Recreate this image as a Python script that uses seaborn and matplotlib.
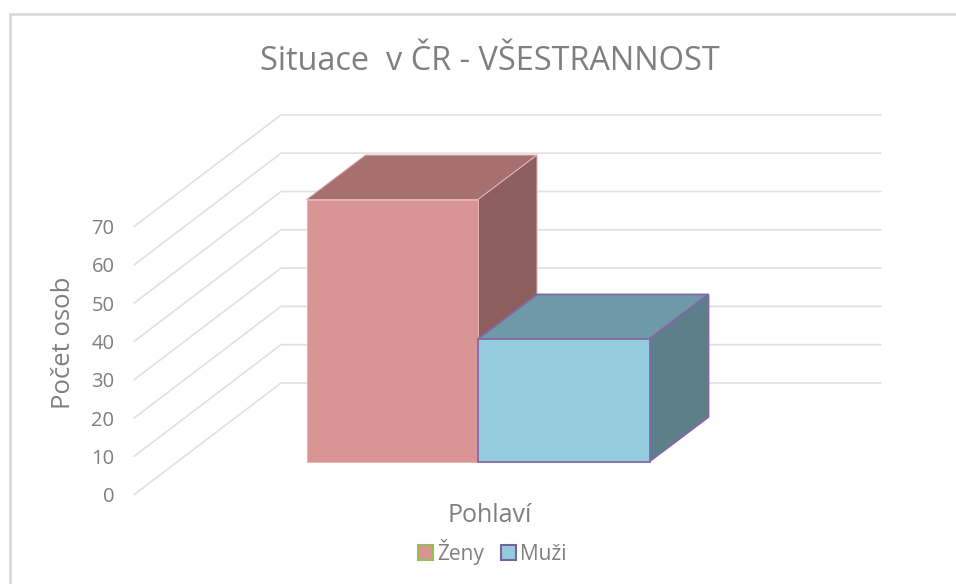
import matplotlib
matplotlib.use("Agg")
import matplotlib.pyplot as plt
import pandas as pd
import seaborn as sns
from matplotlib.lines import Line2D
from matplotlib.patches import Patch

# data
pohlavi = ["Ženy", "Muži"]
pocet = [68.4, 32]
osa_y = [0, 10, 20, 30, 40, 50, 60, 70]

# colours of the bar faces
predni = ["#D99594", "#93CDDD"]
vrch = ["#A5706F", "#7099A8"]
bok = ["#8C5F5E", "#5C7F89"]
okraj = ["#E6B4B3", "#8468A6"]
legenda_okraj = ["#9BBB59", "#7B5FA0"]
seda = "#7F7F7F"
mrizka = "#E0E0E0"

W, H = 956, 584
PX_X = 171.5   # px per category
PX_Y = 3.83    # px per value unit
X0, Y0 = 392.25, 461.5  # px position of category 0 / bar baseline


def sx(px):
    return (px - X0) / PX_X


def sy(py):
    return (Y0 - py) / PX_Y


sns.set_theme(style="white")
plt.rcParams["font.family"] = ["Open Sans", "DejaVu Sans"]

fig = plt.figure(figsize=(W / 100, H / 100), dpi=100)
ax = fig.add_axes([0, 0, 1, 1])

df = pd.DataFrame({"pohlavi": pohlavi, "pocet": pocet})
sns.barplot(data=df, x="pohlavi", y="pocet", hue="pohlavi", palette=predni,
            width=1, legend=False, saturation=1, ax=ax)
ax.set_xlim(sx(0), sx(W))
ax.set_ylim(sy(H), sy(0))
ax.axis("off")

# depth of the 3d box and of the walls
hloubka_x = 59 / PX_X
hloubka_y = 44.5 / PX_Y
stena_x0 = sx(134)
stena_x1 = sx(281)
konec_x = sx(881)
stena_y0 = sy(494.7)
stena_dy = (494.7 - 383) / PX_Y

for t in osa_y:
    y = stena_y0 + t
    ax.plot([stena_x0, stena_x1, konec_x], [y, y + stena_dy, y + stena_dy],
            color=mrizka, lw=1.2, zorder=0.5, solid_joinstyle="miter")
    ax.text(sx(114.5), y, str(t), ha="right", va="center_baseline",
            fontsize=14.5, color=seda)

bars = ax.patches
for i, (bar, hodnota) in enumerate(zip(bars, pocet)):
    zo = 2 + i * 2
    x0 = bar.get_x()
    x1 = x0 + bar.get_width()
    lw = 0.7 if i == 0 else 1.3
    bar.set_edgecolor(okraj[i])
    bar.set_linewidth(lw)
    bar.set_zorder(zo + 1)
    # top face
    ax.fill([x0, x1, x1 + hloubka_x, x0 + hloubka_x],
            [hodnota, hodnota, hodnota + hloubka_y, hodnota + hloubka_y],
            facecolor=vrch[i], edgecolor=okraj[i], lw=lw, zorder=zo)
    # side face
    ax.fill([x1, x1 + hloubka_x, x1 + hloubka_x, x1],
            [0, hloubka_y, hodnota + hloubka_y, hodnota],
            facecolor=bok[i], edgecolor=okraj[i], lw=lw, zorder=zo)

ax.text(sx(490), sy(61), "Situace  v ČR - VŠESTRANNOST", ha="center", va="center",
        fontsize=23.4, color=seda)
ax.text(sx(490), sy(516), "Pohlaví", ha="center", va="center", fontsize=18, color=seda)
ax.text(sx(63), sy(343), "Počet osob", ha="center", va="center", rotation=90,
        fontsize=18.5, color=seda)

handles = [Patch(facecolor=predni[i], edgecolor=legenda_okraj[i], lw=1.5)
           for i in range(len(pohlavi))]
ax.legend(handles, pohlavi, ncol=2, loc="center", bbox_to_anchor=(492.5 / W, 1 - 552 / H),
          frameon=False, fontsize=15, labelcolor=seda, handlelength=0.72, handleheight=0.72,
          handletextpad=0.2, columnspacing=0.8, borderpad=0)

# outer frame, only left and top are visible in the crop
fig.add_artist(Line2D([9.5 / W, 9.5 / W, 1], [0, 1 - 13.5 / H, 1 - 13.5 / H],
                      color="#D6D6D6", lw=1.8, solid_joinstyle="miter"))

fig.savefig("out.png", dpi=100)
